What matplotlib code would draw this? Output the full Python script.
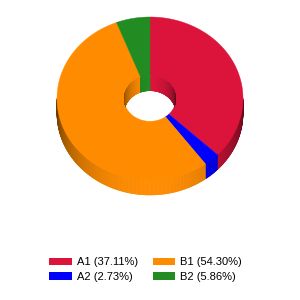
import numpy as np
import matplotlib
matplotlib.use("Agg")
import matplotlib.pyplot as plt
from matplotlib.collections import PolyCollection
from matplotlib.patches import Ellipse, Patch
from matplotlib.colors import to_rgb

# data
labels = ["A1", "A2", "B1", "B2"]
shares = [37.11, 2.73, 54.30, 5.86]
colors = ["#DC143C", "#0000FF", "#FF8C00", "#228B22"]

# geometry of the fake 3d donut (pixels, y going down)
cx, cy = 150, 98.5
rx, ry = 93, 81.5
irx, iry = 26, 22.8
depth = 15

fig = plt.figure(figsize=(3, 3), dpi=100)
ax = fig.add_axes([0, 0, 1, 1])
ax.set_xlim(0, 300)
ax.set_ylim(300, 0)
ax.axis("off")

total = sum(shares)
edges = np.concatenate([[0], np.cumsum(shares) / total * 360.0])


def pt(theta, a, b, dy=0):
    t = np.radians(theta)
    return cx + a * np.sin(t), cy - b * np.cos(t) + dy


def shade(col, theta):
    f = 0.4 + 0.6 * abs(np.cos(np.radians(theta))) ** 0.9
    return tuple(c * f for c in to_rgb(col))


# outer wall, front half only
polys, cols = [], []
for i in range(len(shares)):
    a0, a1 = max(edges[i], 90), min(edges[i + 1], 270)
    if a1 <= a0:
        continue
    th = np.linspace(a0, a1, int((a1 - a0) * 2) + 2)
    for t0, t1 in zip(th[:-1], th[1:]):
        x0, y0 = pt(t0, rx, ry)
        x1, y1 = pt(t1, rx, ry)
        polys.append([(x0, y0), (x1, y1), (x1, y1 + depth), (x0, y0 + depth)])
        cols.append(shade(colors[i], (t0 + t1) / 2))
ax.add_collection(PolyCollection(polys, facecolors=cols, edgecolors=cols, linewidths=0.4))

# top face
for i in range(len(shares)):
    th = np.linspace(edges[i], edges[i + 1], 200)
    ox, oy = pt(th, rx, ry)
    ix, iy = pt(th[::-1], irx, iry)
    ax.fill(np.r_[ox, ix], np.r_[oy, iy], color=colors[i], lw=0.3, ec=colors[i])

# inner wall seen through the hole (back half)
polys, cols = [], []
for i in range(len(shares)):
    for lo, hi in [(edges[i], edges[i + 1]), (edges[i] - 360, edges[i + 1] - 360)]:
        a0, a1 = max(lo, -90), min(hi, 90)
        if a1 <= a0:
            continue
        th = np.linspace(a0, a1, int((a1 - a0) * 2) + 2)
        for t0, t1 in zip(th[:-1], th[1:]):
            x0, y0 = pt(t0, irx, iry)
            x1, y1 = pt(t1, irx, iry)
            polys.append([(x0, y0), (x1, y1), (x1, y1 + depth), (x0, y0 + depth)])
            cols.append(shade(colors[i], (t0 + t1) / 2))
inner = PolyCollection(polys, facecolors=cols, edgecolors=cols, linewidths=0.4)
ax.add_collection(inner)
clip = Ellipse((cx, cy), 2 * irx, 2 * iry, transform=ax.transData)
inner.set_clip_path(clip)

handles = [Patch(facecolor=c, edgecolor="none") for c in colors]
names = [f"{l} ({s:.2f}%)" for l, s in zip(labels, shares)]
ax.legend(handles, names, ncol=2, frameon=False, loc="center",
          bbox_to_anchor=(145.5 / 300, 1 - 269.5 / 300),
          prop={"family": "Liberation Sans", "size": 8},
          handlelength=2.0, handleheight=0.65, handletextpad=0.45,
          columnspacing=1.35, labelspacing=0.4, borderpad=0)

fig.savefig("out.png", dpi=100)
